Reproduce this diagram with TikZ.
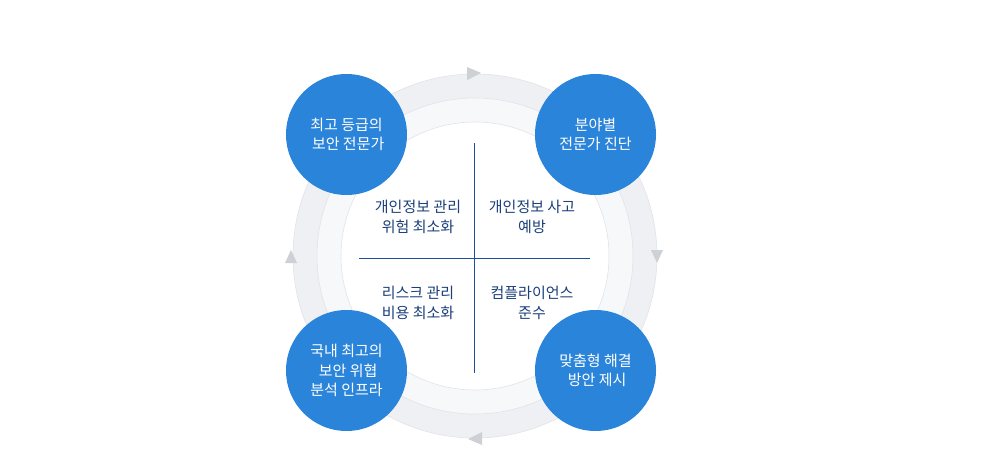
\documentclass[tikz,border=0pt]{standalone}
\usepackage{fontspec}
\newfontfamily\kr{Noto Sans CJK KR}
\definecolor{ringA}{HTML}{EEF0F3}
\definecolor{ringB}{HTML}{F7F8FA}
\definecolor{ringline}{HTML}{E1E3E7}
\definecolor{tri}{HTML}{CDD0D4}
\definecolor{bub}{HTML}{2A84DA}
\definecolor{navy}{HTML}{1B3F7A}
\definecolor{axis}{HTML}{1F4E98}
\begin{document}
\begin{tikzpicture}[x=1pt,y=-1pt,
  bubble/.style={circle,fill=bub,minimum size=121pt,inner sep=0pt,text=white,align=center,font=\kr\fontsize{15}{19.5}\selectfont},
  quad/.style={text=navy,align=center,font=\kr\fontsize{15}{20}\selectfont},
  tipmark/.style={fill=tri,draw=none}]
\useasboundingbox (0,0) rectangle (990,468);
\coordinate (c) at (475,256);
% rings
\fill[ringA,draw=ringline,line width=0.6pt] (c) circle[radius=182];
\fill[ringB,draw=ringline,line width=0.6pt] (c) circle[radius=158];
\fill[white,draw=ringline,line width=0.6pt] (c) circle[radius=134];
% direction triangles
\fill[tipmark] (467,67) -- (481,73) -- (467,80) -- cycle;
\fill[tipmark] (651,250) -- (663,250) -- (657,263) -- cycle;
\fill[tipmark] (482,432) -- (468,439) -- (482,445) -- cycle;
\fill[tipmark] (285,263) -- (297,263) -- (291,250) -- cycle;
% axes
\coordinate (vt) at (474,143);
\coordinate (vb) at (474,373);
\coordinate (hl) at (359,258);
\coordinate (hr) at (590,258);
\draw[axis,line width=0.9pt] (vt) -- (vb);
\draw[axis,line width=0.9pt] (hl) -- (hr);
% quadrant texts
\node[quad] (q1) at (418,217) {개인정보 관리\\위험 최소화};
\node[quad] (q2) at (532,217) {개인정보 사고\\예방};
\node[quad] (q3) at (418,302.5) {리스크 관리\\비용 최소화};
\node[quad] (q4) at (532,302.5) {컴플라이언스\\준수};
% bubbles
\node[bubble] (b1) at (346.5,134.5) {최고 등급의\\\ 보안 전문가};
\node[bubble] (b2) at (595.5,134.5) {분야별\\전문가 진단};
\node[bubble] (b3) at (346.5,370.5) {국내 최고의\\\ 보안 위협\\분석 인프라};
\node[bubble] (b4) at (595.5,370.5) {맞춤형 해결\\\ 방안 제시};
\end{tikzpicture}
\end{document}
